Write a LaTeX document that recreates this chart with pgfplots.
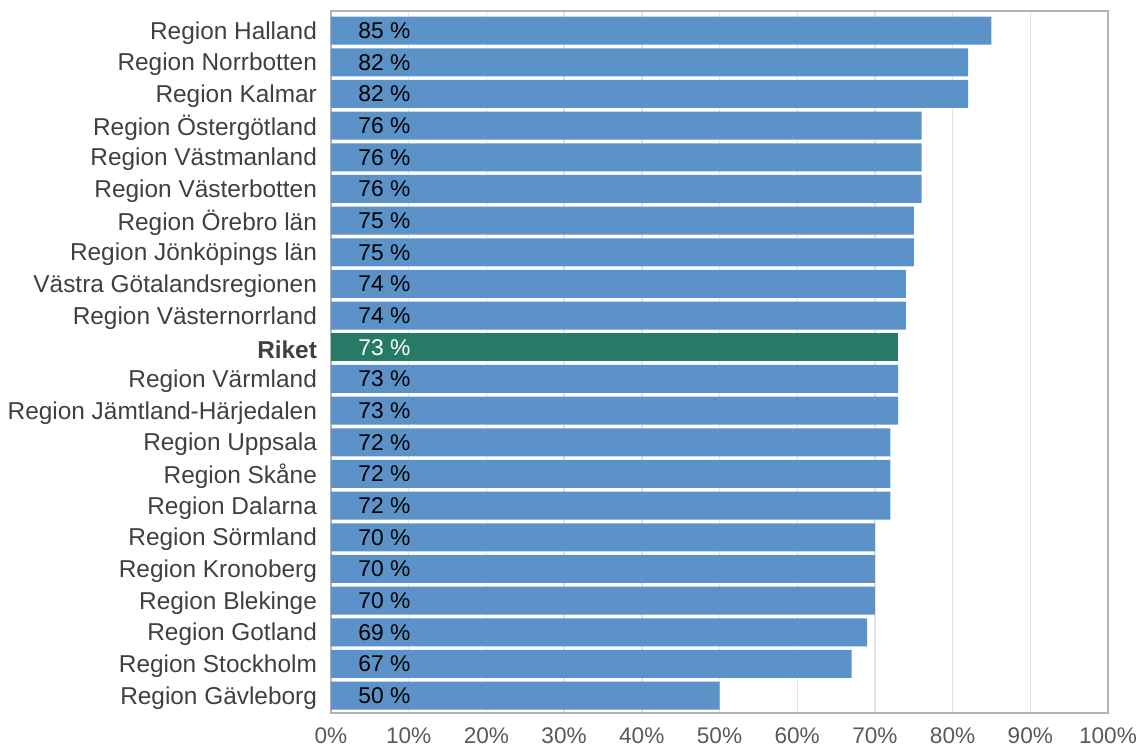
\documentclass[border=0pt]{standalone}
\usepackage{pgfplots}
\pgfplotsset{compat=1.18}
\usepackage{pgfplotstable}
\usepackage{fontspec}
\setmainfont{Liberation Sans}
\definecolor{barblue}{HTML}{5B93C8}
\definecolor{bargreen}{HTML}{277A66}
\definecolor{labgray}{HTML}{404040}
\definecolor{tickgray}{HTML}{595959}
\definecolor{framegray}{HTML}{B4B4B4}
\definecolor{gridgray}{HTML}{E3E3E3}
\pgfplotstableread{
y val
0 85
1 82
2 82
3 76
4 76
5 76
6 75
7 75
8 74
9 74
11 73
12 73
13 72
14 72
15 72
16 70
17 70
18 70
19 69
20 67
21 50
}\blueTable
\pgfplotstableread{
y val
10 73
}\riketTable
\begin{document}
\begin{tikzpicture}
\path[use as bounding box] (-165.5pt,-17pt) rectangle (404.5pt,356.5pt);
\begin{axis}[
  at={(0,0)}, anchor=south west,
  scale only axis, width=388.5pt, height=351pt,
  xmin=0, xmax=100, ymin=-0.62, ymax=21.55, y dir=reverse,
  xtick={0,10,...,100},
  xticklabel={\pgfmathprintnumber{\tick}\%},
  /pgf/number format/assume math mode=true,
  ytick={0,...,21},
  yticklabels={Region Halland, Region Norrbotten, Region Kalmar, Region Östergötland, Region Västmanland, Region Västerbotten, Region Örebro län, Region Jönköpings län, Västra Götalandsregionen, Region Västernorrland, \textbf{Riket}, Region Värmland, Region Jämtland-Härjedalen, Region Uppsala, Region Skåne, Region Dalarna, Region Sörmland, Region Kronoberg, Region Blekinge, Region Gotland, Region Stockholm, Region Gävleborg},
  yticklabel style={font=\fontsize{12.2}{14}\selectfont, text=labgray, xshift=-3.5pt, yshift=-1.2pt},
  xticklabel style={font=\fontsize{11.3}{13}\selectfont, text=tickgray, yshift=-3.8pt},
  major tick length=0pt,
  xmajorgrids, grid style={gridgray, line width=0.7pt},
  axis line style={framegray, line width=0.6pt},
  clip=false,
]
\addplot[xbar, bar width=14pt, bar shift=0pt, fill=barblue, draw=none] table[x=val, y=y] {\blueTable};
\addplot[xbar, bar width=14pt, bar shift=0pt, fill=bargreen, draw=none] table[x=val, y=y] {\riketTable};
\addplot[only marks, mark=none, point meta=explicit, nodes near coords={\pgfmathprintnumber{\pgfplotspointmeta}~\%},
  every node near coord/.append style={anchor=west, xshift=13.5pt, yshift=0pt, font=\fontsize{11.4}{13}\selectfont, text=black, inner sep=0pt}]
  table[x expr=0, y=y, meta=val] {\blueTable};
\addplot[only marks, mark=none, point meta=explicit, nodes near coords={\pgfmathprintnumber{\pgfplotspointmeta}~\%},
  every node near coord/.append style={anchor=west, xshift=13.5pt, yshift=0pt, font=\fontsize{11.4}{13}\selectfont, text=white, inner sep=0pt}]
  table[x expr=0, y=y, meta=val] {\riketTable};
\end{axis}
\end{tikzpicture}
\end{document}
